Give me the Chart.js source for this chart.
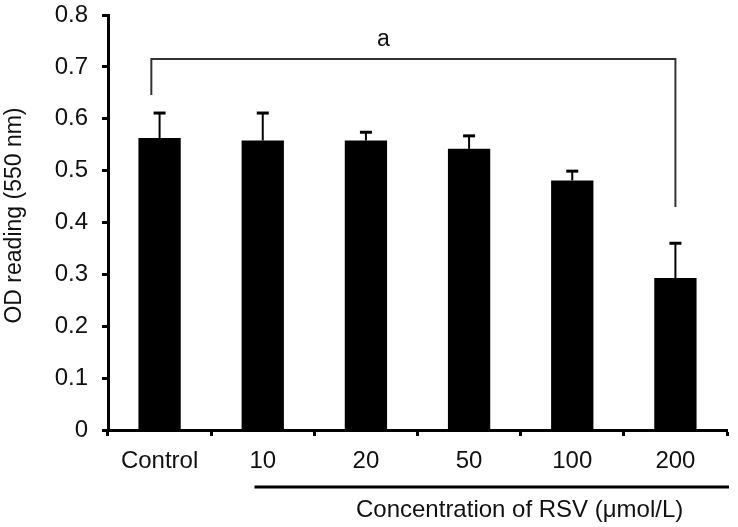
<!DOCTYPE html>
<html>
<head>
<meta charset="utf-8">
<script src="https://cdn.jsdelivr.net/npm/chart.js@4"></script>
<style>
  body { margin: 0; background: #fff; }
  canvas { display: block; }
</style>
</head>
<body>
<canvas id="myChart" width="738" height="527"></canvas>
<script>
const categorias = ['Control', '10', '20', '50', '100', '200'];
const medias = [0.563, 0.558, 0.558, 0.542, 0.481, 0.293];
const sd = [0.048, 0.053, 0.016, 0.025, 0.018, 0.067];
const yTicks = [0, 0.1, 0.2, 0.3, 0.4, 0.5, 0.6, 0.7, 0.8];

// corchete de significancia: de Control a 200
const corcheteX = [-0.08, 5.0];
const corcheteY = [0.646, 0.715, 0.430];
const etiquetaSig = 'a';
const etiquetaSigX = 2.17;

const tituloX = 'Concentration of RSV (μmol/L)';
const tituloY = 'OD reading (550 nm)';

const fuente = '"Liberation Sans", Arial, sans-serif';

const extras = {
  id: 'extras',
  afterDatasetsDraw(chart) {
    const ctx = chart.ctx;
    const x = chart.scales.x;
    const y = chart.scales.y;
    const meta = chart.getDatasetMeta(0);

    // barras de error (solo hacia arriba)
    ctx.save();
    ctx.strokeStyle = '#000';
    meta.data.forEach((bar, i) => {
      const yTop = y.getPixelForValue(medias[i] + sd[i]);
      const yBar = y.getPixelForValue(medias[i]);
      ctx.lineWidth = 2;
      ctx.beginPath();
      ctx.moveTo(bar.x, yBar);
      ctx.lineTo(bar.x, yTop);
      ctx.stroke();
      ctx.lineWidth = 3;
      ctx.beginPath();
      ctx.moveTo(bar.x - 6, yTop);
      ctx.lineTo(bar.x + 6, yTop);
      ctx.stroke();
    });

    // corchete
    ctx.strokeStyle = '#333';
    ctx.lineWidth = 2;
    ctx.beginPath();
    ctx.moveTo(x.getPixelForValue(corcheteX[0]), y.getPixelForValue(corcheteY[0]));
    ctx.lineTo(x.getPixelForValue(corcheteX[0]), y.getPixelForValue(corcheteY[1]));
    ctx.lineTo(x.getPixelForValue(corcheteX[1]), y.getPixelForValue(corcheteY[1]));
    ctx.lineTo(x.getPixelForValue(corcheteX[1]), y.getPixelForValue(corcheteY[2]));
    ctx.stroke();

    ctx.fillStyle = '#111';
    ctx.font = '23px ' + fuente;
    ctx.textAlign = 'center';
    ctx.textBaseline = 'alphabetic';
    ctx.fillText(etiquetaSig, x.getPixelForValue(etiquetaSigX), y.getPixelForValue(corcheteY[1]) - 13);

    // linea y titulo bajo el eje x
    const lineaY = x.bottom - 40;
    ctx.strokeStyle = '#000';
    ctx.lineWidth = 3;
    ctx.beginPath();
    ctx.moveTo(x.getPixelForValue(0.92), lineaY);
    ctx.lineTo(x.right + 2, lineaY);
    ctx.stroke();

    ctx.font = '24px ' + fuente;
    ctx.textBaseline = 'middle';
    ctx.fillText(tituloX, x.getPixelForValue(3.49), lineaY + 23);

    // titulo del eje y
    ctx.font = '23px ' + fuente;
    ctx.translate(15, (y.top + y.bottom) / 2 - 7);
    ctx.rotate(-Math.PI / 2);
    ctx.fillText(tituloY, 0, 0);
    ctx.restore();
  }
};

const config = {
  type: 'bar',
  data: {
    labels: categorias,
    datasets: [{
      data: medias,
      backgroundColor: '#000',
      borderWidth: 0,
      categoryPercentage: 1,
      barPercentage: 0.41
    }]
  },
  options: {
    responsive: false,
    animation: false,
    layout: { padding: { left: 0, top: 15, right: 11, bottom: 0 } },
    plugins: {
      legend: { display: false },
      tooltip: { enabled: false }
    },
    scales: {
      x: {
        afterFit: (s) => { s.height = 97; s.paddingLeft = 0; s.paddingRight = 0; },
        border: { color: '#000', width: 3 },
        grid: {
          offset: true,
          drawOnChartArea: false,
          tickColor: '#000',
          tickWidth: 3,
          tickLength: 6
        },
        ticks: {
          color: '#111',
          font: { family: fuente, size: 24 },
          padding: 11,
          maxRotation: 0
        }
      },
      y: {
        min: 0,
        max: 0.8,
        afterFit: (s) => { s.width = 108; s.paddingTop = 0; s.paddingBottom = 0; },
        afterBuildTicks: (s) => { s.ticks = yTicks.map(v => ({ value: v })); },
        border: { color: '#000', width: 3 },
        grid: {
          drawOnChartArea: false,
          tickColor: '#000',
          tickWidth: 3,
          tickLength: 6
        },
        ticks: {
          color: '#111',
          font: { family: fuente, size: 24 },
          padding: 14,
          callback: (v) => v === 0 ? '0' : v.toFixed(1)
        }
      }
    }
  },
  plugins: [extras]
};

new Chart(document.querySelector('#myChart'), config);
</script>
</body>
</html>
